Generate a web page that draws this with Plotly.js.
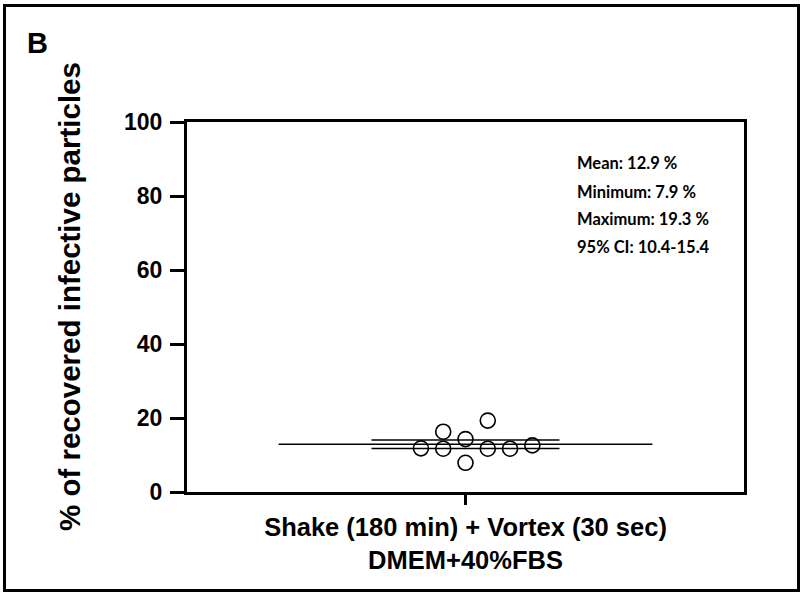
<!DOCTYPE html>
<html>
<head>
<meta charset="utf-8">
<script src="https://cdn.plot.ly/plotly-3.0.1.min.js"></script>
<style>
  html, body { margin: 0; padding: 0; background: #fff; }
  #wrap { position: relative; width: 803px; height: 595px; }
  #chart { position: absolute; left: 0; top: 0; width: 803px; height: 595px; }
  #frame { position: absolute; left: 3px; top: 4px; width: 797px; height: 588px;
           box-sizing: border-box; border: 3px solid #000; pointer-events: none; }
</style>
</head>
<body>
<div id="wrap">
  <div id="chart"></div>
  <div id="frame"></div>
</div>
<script>
// ---- data ----
const categoryLabel = ["Shake (180 min) + Vortex (30 sec)<br>DMEM+40%FBS"];
const pointValues   = [11.8, 16.3, 11.7, 14.3, 7.9, 19.3, 11.7, 11.7, 12.6];
const pointColumns  = [-2, -1, -1, 0, 0, 1, 1, 2, 3];   // scatter-column slot of each point
const meanValue = [12.9];
const semValue  = [1.15];
const statLabels = ["Mean:", "Minimum:", "Maximum:", "95% CI:"];
const statValues = ["12.9 %", "7.9 %", "19.3 %", "10.4-15.4"];
const yTicks = [0, 20, 40, 60, 80, 100];
const panelLetter = "B";
const yTitle = "% of recovered infective particles";

// ---- layout constants ----
const colStep = 0.08;
const meanHalf = 0.671;
const semHalf = 0.3375;
const F = "Liberation Sans, Arial, sans-serif";

const px = pointColumns.map(c => c * colStep);

const traces = [
  { x: [-meanHalf, meanHalf], y: [meanValue[0], meanValue[0]], mode: "lines",
    line: { color: "#000", width: 1.6 }, hoverinfo: "skip", showlegend: false },
  { x: [-semHalf, semHalf], y: [meanValue[0] + semValue[0], meanValue[0] + semValue[0]], mode: "lines",
    line: { color: "#000", width: 1.6 }, hoverinfo: "skip", showlegend: false },
  { x: [-semHalf, semHalf], y: [meanValue[0] - semValue[0], meanValue[0] - semValue[0]], mode: "lines",
    line: { color: "#000", width: 1.6 }, hoverinfo: "skip", showlegend: false },
  { x: px, y: pointValues, mode: "markers", showlegend: false,
    marker: { symbol: "circle-open", size: 15, color: "#000", line: { color: "#000", width: 1.6 } } }
];

const statY = [163, 191.5, 218.5, 246.5];
const annotations = statLabels.map((l, i) => ({
  xref: "paper", yref: "paper", x: (575 - 187) / 557, y: (492 - statY[i]) / 370,
  xanchor: "left", yanchor: "middle", showarrow: false,
  text: l + " " + statValues[i],
  font: { family: "Lato, Open Sans, sans-serif", size: 16.5, weight: "bold", color: "#000" }
}));
annotations.push({
  xref: "paper", yref: "paper", x: (37 - 187) / 557, y: (492 - 43) / 370,
  xanchor: "center", yanchor: "middle", showarrow: false, text: panelLetter,
  font: { family: F, size: 29, weight: "bold", color: "#000" }
});
annotations.push({
  xref: "paper", yref: "paper", x: (69 - 187) / 557, y: (492 - 297) / 370,
  xanchor: "center", yanchor: "middle", showarrow: false, textangle: -90, text: yTitle,
  font: { family: F, size: 29.5, weight: "bold", color: "#000" }
});

const layout = {
  width: 803, height: 595,
  margin: { l: 187, r: 59, t: 122, b: 103, pad: 0 },
  paper_bgcolor: "#fff", plot_bgcolor: "#fff",
  showlegend: false,
  xaxis: {
    range: [-1, 1], showgrid: false, zeroline: false,
    showline: true, linecolor: "#000", linewidth: 3, mirror: true,
    tickmode: "array", tickvals: [0], ticktext: categoryLabel,
    ticks: "outside", ticklen: 10, tickwidth: 3, tickcolor: "#000",
    tickfont: { family: F, size: 25.5, weight: "bold", color: "#000" }
  },
  yaxis: {
    range: [0, 100], showgrid: false, zeroline: false,
    showline: true, linecolor: "#000", linewidth: 3, mirror: true,
    tickmode: "array", tickvals: yTicks, ticktext: yTicks.map(String),
    ticks: "outside", ticklen: 14, tickwidth: 3, tickcolor: "#000",
    ticklabelstandoff: 3,
    tickfont: { family: F, size: 23, weight: "bold", color: "#000" }
  },
  annotations: annotations
};

Plotly.newPlot("chart", traces, layout, { displayModeBar: false, staticPlot: true });
</script>
</body>
</html>
